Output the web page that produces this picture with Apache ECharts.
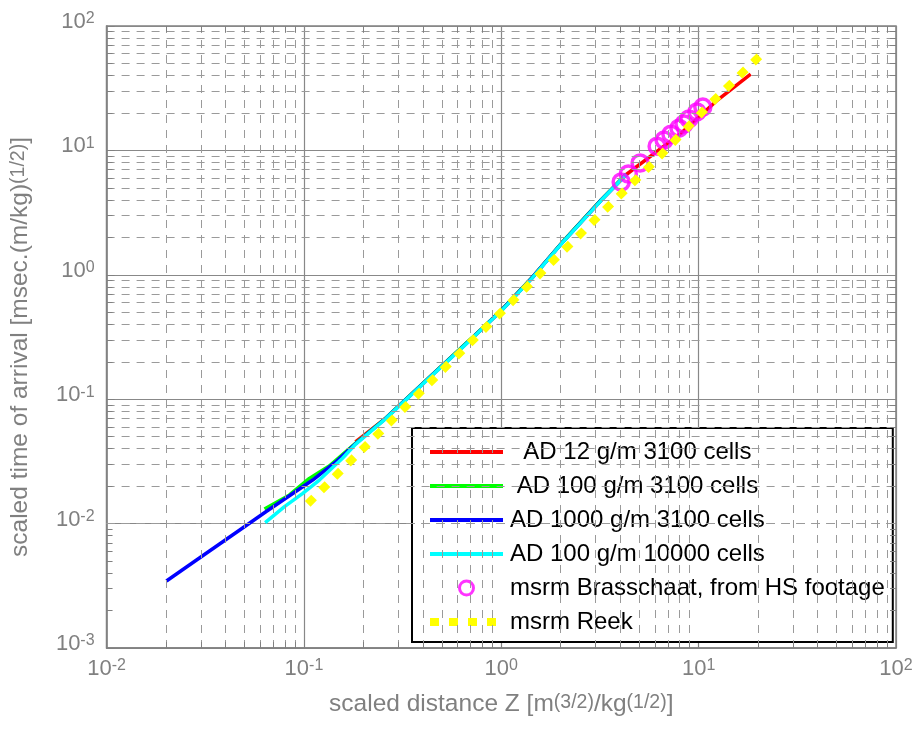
<!DOCTYPE html>
<html><head><meta charset="utf-8">
<script src="https://cdn.jsdelivr.net/npm/echarts@6/dist/echarts.min.js"></script>
<style>html,body{margin:0;padding:0;background:#fff}#c{width:919px;height:736px}</style>
</head><body><div id="c"></div>
<script>
// ---- data ----
const xDecades = [0.01, 0.1, 1, 10];
const yDecades = [0.001, 0.01, 0.1, 1, 10];
const minorSteps = [2, 3, 4, 5, 6, 7, 8, 9];

const seriesNames = ['  AD 12 g/m 3100 cells', ' AD 100 g/m 3100 cells', 'AD 1000 g/m 3100 cells',
  'AD 100 g/m 10000 cells', 'msrm Brasschaat, from HS footage', 'msrm Reek'];

const ad12 = [[0.1824,0.0453],[0.259,0.0700],[0.446,0.1564],[0.710,0.309],[1.006,0.521],[1.425,0.938],
  [2.02,1.79],[3.21,3.99],[4.3,6.4],[8.13,13.7],[12.46,25.4],[18.35,41.1]];
const ad100 = [[0.0631,0.0131],[0.0845,0.0170],[0.1065,0.0231],[0.1343,0.0290],[0.183,0.0443],[0.259,0.0702],
  [0.446,0.1570],[0.710,0.311],[1.006,0.524],[1.425,0.942],[2.02,1.80],[3.21,4.01],[4.3,6.45]];
const ad1000 = [[0.0201,0.00346],[0.0308,0.00554],[0.0491,0.00927],[0.0644,0.0125],[0.1107,0.0224],
  [0.145,0.0313],[0.183,0.0440],[0.259,0.0700],[0.446,0.1564],[0.710,0.309],[1.006,0.521],[1.425,0.938],
  [2.02,1.79],[3.21,3.99],[4.3,6.4]];
const ad100fine = [[0.0636,0.0102],[0.0797,0.0137],[0.0986,0.0175],[0.1197,0.0224],[0.1568,0.0335],
  [0.183,0.0436],[0.259,0.0695],[0.446,0.1555],[0.710,0.307],[1.006,0.518],[1.425,0.932],[2.02,1.78],
  [3.21,3.97],[4.3,6.4]];
const brasschaat = [[4.05,5.57],[4.40,6.46],[5.05,7.92],[6.16,10.8],[6.68,12.1],[7.24,13.5],[7.95,15.1],
  [8.43,16.3],[8.93,17.9],[9.80,20.4],[10.5,22.3]];
const reek = [[0.1045,0.0144],[0.1643,0.0296],[0.3006,0.0760],[0.552,0.198],[1.006,0.505],[1.834,1.30],
  [3.37,3.36],[6.21,8.64],[11.1,22.5],[20.3,57.0]];

// ---- chart ----
const grayText = '#808080';
const minorX = [], minorY = [];
xDecades.forEach(d => minorSteps.forEach(m => minorX.push(+(m * d).toPrecision(3))));
yDecades.forEach(d => minorSteps.forEach(m => minorY.push(+(m * d).toPrecision(3))));
const xMin = 0.01, xMax = 100, yMin = 0.001, yMax = 100;
const tickX = 1.117, tickY = 1.072; // short inward edge ticks
const edgeTicks = [];
minorX.forEach(v => {
  edgeTicks.push([{coord:[v, yMin]}, {coord:[v, yMin * tickX]}]);
  edgeTicks.push([{coord:[v, yMax]}, {coord:[v, yMax / tickX]}]);
});
minorY.forEach(v => {
  edgeTicks.push([{coord:[xMin, v]}, {coord:[xMin * tickY, v]}]);
  edgeTicks.push([{coord:[xMax, v]}, {coord:[xMax / tickY, v]}]);
});

function powLabel(v) {
  const e = Math.round(Math.log10(v));
  return '{b|10}{s|' + e + '}';
}
const labelRich = {
  b: {fontSize: 22, lineHeight: 22, verticalAlign: 'bottom', color: grayText, fontFamily: 'Liberation Sans'},
  s: {fontSize: 16, lineHeight: 16, verticalAlign: 'top', padding: [0, 0, 12, 0], color: grayText, fontFamily: 'Liberation Sans'}
};
const nameRich = {
  b: {fontSize: 24.5, lineHeight: 24, verticalAlign: 'bottom', color: grayText, fontFamily: 'Liberation Sans'},
  s: {fontSize: 19.5, lineHeight: 19, verticalAlign: 'top', padding: [0, 0, 16, 0], color: grayText, fontFamily: 'Liberation Sans'}
};

const lineColors = ['#ff0000', '#00ff00', '#0000ff', '#00ffff'];
const lineData = [ad12, ad100, ad1000, ad100fine];

const series = [{
  name: 'grid', type: 'line', data: [], z: 1, silent: true,
  markLine: {
    silent: true, symbol: ['none', 'none'], label: {show: false}, animation: false,
    lineStyle: {color: '#9a9a9a', width: 1, type: [8, 7]},
    data: minorX.map(v => ({xAxis: v})).concat(minorY.map(v => ({yAxis: v})))
  }
}, {
  name: 'ticks', type: 'line', data: [], z: 1, silent: true,
  markLine: {
    silent: true, symbol: ['none', 'none'], label: {show: false}, animation: false,
    lineStyle: {color: '#808080', width: 1, type: 'solid'},
    data: edgeTicks
  }
}];
lineData.forEach((d, i) => series.push({
  name: seriesNames[i], type: 'line', data: d, symbol: 'none', smooth: false, z: 3,
  lineStyle: {color: lineColors[i], width: 3.5, type: 'solid'}, itemStyle: {color: lineColors[i]}
}));
series.push({
  name: seriesNames[4], type: 'scatter', data: brasschaat, symbol: 'circle', symbolSize: 16, z: 4,
  itemStyle: {color: 'rgba(0,0,0,0)', borderColor: '#ff00ff', borderWidth: 3.5}
});
series.push({
  name: seriesNames[5], type: 'line', data: reek, symbol: 'none', z: 5,
  lineStyle: {color: '#ffff00', width: 8, type: [9, 10], cap: 'butt'}, itemStyle: {color: '#ffff00'}
});

const noSymbol = {color: 'rgba(0,0,0,0)', borderWidth: 0, opacity: 0};
const legendData = [];
lineColors.forEach((c, i) => legendData.push({name: seriesNames[i], itemStyle: noSymbol,
  lineStyle: {color: c, width: 4, type: 'solid'}}));
legendData.push({name: seriesNames[4], icon: 'circle',
  itemStyle: {color: 'rgba(0,0,0,0)', borderColor: '#ff00ff', borderWidth: 3}});
legendData.push({name: seriesNames[5], itemStyle: noSymbol,
  lineStyle: {color: '#ffff00', width: 8, type: [9, 10], cap: 'butt'}});

const chart = echarts.init(document.getElementById('c'), null, {renderer: 'canvas'});
chart.setOption({
  animation: false,
  backgroundColor: '#ffffff',
  grid: {left: 103, right: 23, top: 26, bottom: 88, show: true, borderColor: '#808080', borderWidth: 1.5, backgroundColor: '#fff'},
  xAxis: {
    type: 'log', logBase: 10, min: xMin, max: xMax,
    axisLine: {show: true, lineStyle: {color: '#808080', width: 1.5}},
    axisTick: {show: true, inside: true, length: 8, lineStyle: {color: '#808080'}},
    splitLine: {show: true, lineStyle: {color: '#888888', width: 1.2}},
    axisLabel: {formatter: powLabel, rich: labelRich, margin: 10, showMinLabel: true, showMaxLabel: true},
    name: '{b|scaled distance Z [m}{s|(3/2)}{b|/kg}{s|(1/2)}{b|]}',
    nameLocation: 'middle', nameGap: 45, nameTextStyle: {rich: nameRich}
  },
  yAxis: {
    type: 'log', logBase: 10, min: yMin, max: yMax,
    axisLine: {show: true, lineStyle: {color: '#808080', width: 1.5}},
    axisTick: {show: true, inside: true, length: 8, lineStyle: {color: '#808080'}},
    splitLine: {show: true, lineStyle: {color: '#888888', width: 1.2}},
    axisLabel: {formatter: powLabel, rich: labelRich, margin: 12, padding: [0, 0, 8, 0], showMinLabel: true, showMaxLabel: true},
    name: '{b|scaled time of arrival [msec.(m/kg)}{s|(1/2)}{b|]}',
    nameLocation: 'middle', nameGap: 59, nameTextStyle: {rich: nameRich, padding: [0, 20, 0, 0]}
  },
  legend: {
    show: true, orient: 'vertical', left: 412, top: 428,
    padding: [12, 8, 8, 14], itemGap: 10, itemWidth: 73, itemHeight: 14,
    backgroundColor: '#ffffff', borderColor: '#000000', borderWidth: 2, borderRadius: 0,
    selectedMode: false, data: legendData,
    textStyle: {fontSize: 24, lineHeight: 24, color: '#000', fontFamily: 'Liberation Sans', padding: [0, 0, 0, 2]}
  },
  series: series
});
</script></body></html>
